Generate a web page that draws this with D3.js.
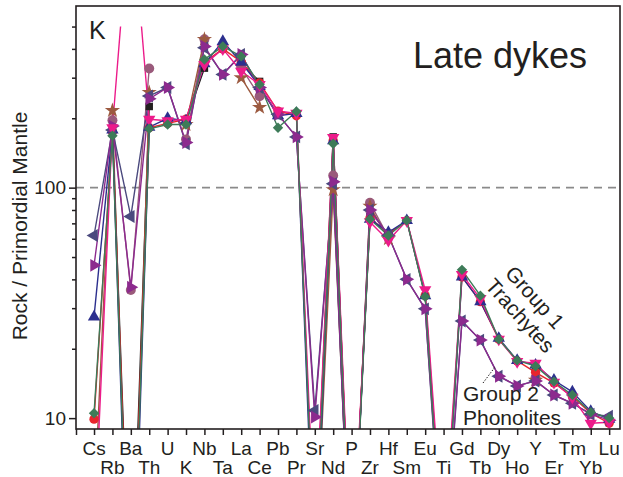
<!DOCTYPE html>
<html><head><meta charset="utf-8">
<script src="https://cdn.jsdelivr.net/npm/d3@7"></script>
<style>
body{margin:0;background:#fff}
svg{display:block}
text{font-family:Arial,"Liberation Sans",Helvetica,sans-serif;fill:#231f20}
</style>
</head><body>
<svg id="chart" width="623" height="477"></svg>
<script>
// ---------- DATA ----------
const elements = ["Cs","Rb","Ba","Th","U","K","Nb","Ta","La","Ce","Pb","Pr","Sr","Nd","P","Zr","Hf","Sm","Eu","Ti","Gd","Tb","Dy","Ho","Y","Er","Tm","Yb","Lu"];
const yMajorTicks = [10, 100];
const yMinorTicks = [20,30,40,50,60,70,80,90,200,300,400,500];
const referenceLevel = 100;

//                 Cs   Rb   Ba   Th   U    K    Nb   Ta   La   Ce   Pb   Pr   Sr   Nd   P    Zr  Hf  Sm  Eu   Ti  Gd  Tb  Dy   Ho   Y    Er   Tm   Yb   Lu
const redCircle   = [9.9, 175, 1.0, 182, 190, 198, 350, 400, 352, 285, 215, 205, 2.5, 160, 1.8, 74, 63, 72, 34,  2.5, 41, 32, 22,  17.7, 15.8, 14.2, 12.4, 10.5, 9.5];
const blackSquare = [null,180, 1.2, 225, null,195, 330, null,345, 289, null,null,2.6, 166, 1.7, 75, null,null,null,null,null,null,null,null,16.2,null,null,null,null];
const mauveCircle = [null,196, 36,  329, null,162, 440, null,332, 249, null,null,2.4, 113, 1.5, 86, 61, null,null,null,null,null,null,null,15.0,null,null,null,null];
const brownStar   = [4.0, 216, 0.7, 259, null,188, 440, null,300, 223, null,null,2.0, 98,  1.6, 83, 60, null,null,null,null,null,null,null,14.6,null,null,null,null];
const blueTriUp   = [27.5,178, 0.6, 183, 200, 195, 345, 431, 350, 275, 205, 210, 1.8, 160, 1.7, 73, 64, 72, 34,  2.2, 41, 32, 22.2,17.8, 17.0, 14.6, 13.0, 10.7, 9.9];
const navyTriLeft = [62,  178, 75,  250, 272, 155, 405, 310, 378, 272, 208, 166, 10.8,104, 1.5, 80, 62, 40, 29.8,2.0, 26.4,21.8,15.2,13.8, 14.5, 12.6, 11.6, 10.4, 10.2];
const purpleTriRt = [46,  185, 37,  243, 272, 157, 410, 310, 378, 272, 208, 166, 10.1,106, 1.6, 80, 62, 40, 29.8,2.2, 26.4,21.8,15.2,13.8, 14.5, 12.6, 11.6, 10.4, 9.8];
const magentaTriDn= [3.0, 182, 1800,198, 195, 198, 342, 400, 320, 280, 215, 210, 3.0, 165, 2.0, 71, 59, 72, 36,  2.8, 42, 33, 22,  17.6, 17.3, 14.3, 12.3, 9.5,  9.6];
const greenDiamond= [10.5,168, 0.8, 180, 188, 188, 360, 410, 371, 280, 182, 214, 2.2, 155, 1.6, 73, 62, 72, 33.6,2.0, 44, 34, 22,  17.8, 16.8, 14.4, 12.6, 10.6, 10.0];

// ---------- STYLE ----------
const series = [
  {v: blackSquare,  color:"#231f20", sym:d3.symbolSquare,   size:56, rot:0},
  {v: mauveCircle,  color:"#9a5a7b", sym:d3.symbolCircle,   size:78, rot:0},
  {v: brownStar,    color:"#9c5a40", sym:d3.symbolStar,     size:72, rot:0},
  {v: redCircle,    color:"#e8252c", sym:d3.symbolCircle,   size:68, rot:0},
  {v: blueTriUp,    color:"#2c2f8e", sym:d3.symbolTriangle, size:66, rot:0},
  {v: navyTriLeft,  color:"#4b4a7e", sym:d3.symbolTriangle, size:72, rot:-90},
  {v: purpleTriRt,  color:"#8c2a8e", sym:d3.symbolTriangle, size:72, rot:90},
  {v: magentaTriDn, color:"#ec1b8a", sym:d3.symbolTriangle, size:66, rot:180},
  {v: greenDiamond, color:"#3d7b58", sym:d3.symbolSquare,   size:54, rot:45}
];

const svg = d3.select("#chart");
const L = 76, R = 620, T = 6, B = 429;
const x = d3.scaleLinear().domain([-0.98, 28.59]).range([L, R]);
const y = d3.scaleLog().domain([8.97, 614]).range([B, T]);
const ink = "#231f20";

// clip paths
const defs = svg.append("defs");
defs.append("clipPath").attr("id","clipLines").append("rect")
  .attr("x", L).attr("y", y(500)).attr("width", R - L).attr("height", B - y(500));
defs.append("clipPath").attr("id","clipPlot").append("rect")
  .attr("x", L).attr("y", T).attr("width", R - L).attr("height", B - T);

// reference dashed line
svg.append("line")
  .attr("x1", L).attr("x2", R).attr("y1", y(referenceLevel)).attr("y2", y(referenceLevel))
  .attr("stroke", "#8a8a8a").attr("stroke-width", 1.6).attr("stroke-dasharray", "8,6");

// lines & markers
const line = d3.line()
  .defined(d => d.v != null)
  .x(d => x(d.i)).y(d => y(d.v));

const gLines = svg.append("g").attr("clip-path","url(#clipLines)");
const gMarks = svg.append("g").attr("clip-path","url(#clipPlot)");

series.forEach(s => {
  const pts = s.v.map((v, i) => ({i, v}));
  gLines.append("path").datum(pts)
    .attr("d", line).attr("fill","none")
    .attr("stroke", s.color).attr("stroke-width", 1.4).attr("stroke-linejoin","round");
});
series.forEach(s => {
  const pts = s.v.map((v, i) => ({i, v})).filter(d => d.v != null);
  gMarks.selectAll(null).data(pts).enter().append("path")
    .attr("d", d3.symbol().type(s.sym).size(s.size))
    .attr("transform", d => `translate(${x(d.i)},${y(d.v)}) rotate(${s.rot})`)
    .attr("fill", s.color);
});

// axes
const yMajor = svg.append("g").attr("transform", `translate(${L},0)`)
  .call(d3.axisLeft(y).tickValues(yMajorTicks).tickSize(7).tickPadding(3).tickFormat(d3.format("d")));
const yMinor = svg.append("g").attr("transform", `translate(${L},0)`)
  .call(d3.axisLeft(y).tickValues(yMinorTicks).tickSize(4).tickFormat(""));
const xAx = svg.append("g").attr("transform", `translate(0,${B})`)
  .call(d3.axisBottom(x).tickValues([x.domain()[0]].concat(d3.range(elements.length))).tickSize(6).tickFormat(""));
[yMajor, yMinor, xAx].forEach(g => {
  g.select(".domain").remove();
  g.selectAll(".tick line").attr("stroke", ink).attr("stroke-width", 1.5);
});
yMajor.selectAll(".tick text").attr("font-size", 19).attr("fill", ink)
  .attr("font-family", "Arial, 'Liberation Sans', sans-serif");

// frame
svg.append("rect").attr("x", L).attr("y", T).attr("width", R - L).attr("height", B - T)
  .attr("fill","none").attr("stroke", ink).attr("stroke-width", 1.6);

// x labels in two rows
svg.append("g").selectAll("text").data(elements).enter().append("text")
  .attr("x", (d, i) => x(i))
  .attr("y", (d, i) => i % 2 === 0 ? 455 : 474)
  .attr("text-anchor", "middle").attr("font-size", 19).text(d => d);

// y title
svg.append("text").attr("transform", "translate(27,226) rotate(-90)")
  .attr("text-anchor","middle").attr("font-size", 21).text("Rock / Primordial Mantle");

// annotations
svg.append("text").attr("x", 89).attr("y", 39).attr("font-size", 25).text("K");
svg.append("text").attr("x", 413).attr("y", 68).attr("font-size", 36).text("Late dykes");

const g1 = svg.append("g").attr("transform", "translate(504,274) rotate(48)");
g1.append("text").attr("x", 0).attr("y", 0).attr("font-size", 21).text("Group 1");
g1.append("text").attr("x", -4).attr("y", 23).attr("font-size", 21).text("Trachytes");

svg.append("text").attr("x", 463).attr("y", 401).attr("font-size", 21).text("Group 2");
svg.append("text").attr("x", 463).attr("y", 425).attr("font-size", 21).text("Phonolites");
svg.append("line").attr("x1", 483).attr("y1", 383).attr("x2", 495).attr("y2", 367)
  .attr("stroke", ink).attr("stroke-width", 1).attr("stroke-dasharray", "1.5,1.5");
</script>
</body></html>
